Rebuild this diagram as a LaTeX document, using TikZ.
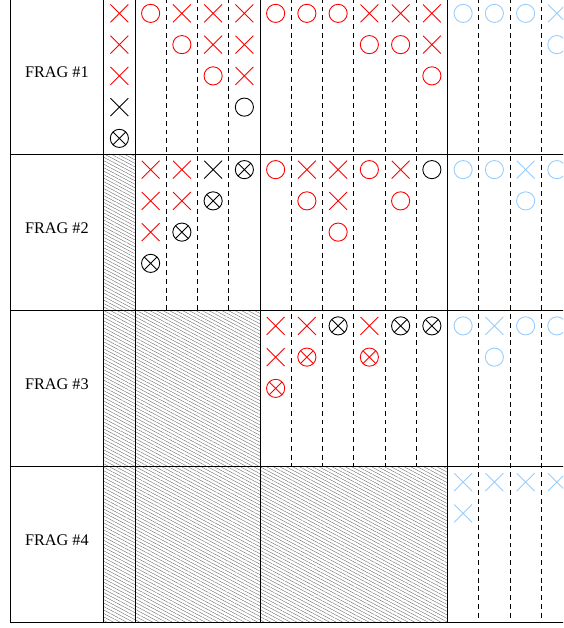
\documentclass[tikz,border=0pt]{standalone}
\usepackage{fontspec}
\setmainfont{Liberation Serif}
\usepackage{tikz}
\usetikzlibrary{shapes.misc}
\usetikzlibrary{patterns.meta}
\usepackage{xcolor}

\definecolor{skyblue}{RGB}{150,205,255}

\tikzset{
  gridline/.style={line width=0.9pt},
  dashline/.style={line width=0.8pt, dash pattern=on 4.5pt off 3.5pt},
  hatch/.style={pattern={Lines[angle=-28,distance=2.8pt,line width=0.3pt]}, pattern color=black!65},
  crossmark/.style={draw, cross out, minimum size=0.54cm, inner sep=0pt, line width=0.8pt},
  ringmark/.style={draw, circle, minimum size=0.58cm, inner sep=0pt, line width=0.8pt},
  bothmark/.style={ringmark, path picture={
      \draw[line width=0.8pt] (path picture bounding box.north west) -- (path picture bounding box.south east)
                              (path picture bounding box.north east) -- (path picture bounding box.south west);}},
  xred/.style={crossmark, color=red},
  xblk/.style={crossmark, color=black},
  xblu/.style={crossmark, color=skyblue},
  ored/.style={ringmark, color=red},
  oblk/.style={ringmark, color=black},
  oblu/.style={ringmark, color=skyblue},
  dred/.style={bothmark, color=red},
  dblk/.style={bothmark, color=black},
  fraglabel/.style={font=\fontsize{14.8}{17}\selectfont}
}

\begin{document}
\begin{tikzpicture}
    \useasboundingbox (-0.32,-0.072) rectangle (17.696,-20.168);
    \clip (-0.32,-0.072) rectangle (17.696,-20.168);

    % Hatched (empty) cells
    \fill[hatch] (3,-5) rectangle (4,-20);
    \fill[hatch] (4,-10) rectangle (8,-20);
    \fill[hatch] (8,-15) rectangle (14,-20);

    % Dashed sub-columns
    \foreach \x in {5,6,7} \draw[dashline] (\x,0) -- (\x,-10);
    \foreach \x in {9,...,13} \draw[dashline] (\x,0) -- (\x,-15);
    \foreach \x in {15,16,17} \draw[dashline] (\x,0) -- (\x,-20);

    % Solid grid
    \foreach \y in {0,-5,-10,-15,-20} \draw[gridline] (0,\y) -- (18,\y);
    \foreach \x in {0,3,4,8,14,18} \draw[gridline] (\x,0) -- (\x,-20);

    % Row labels
    \node[fraglabel] (frag1) at (1.5,-2.37) {FRAG \#1};
    \node[fraglabel] (frag2) at (1.5,-7.37) {FRAG \#2};
    \node[fraglabel] (frag3) at (1.5,-12.37) {FRAG \#3};
    \node[fraglabel] (frag4) at (1.5,-17.37) {FRAG \#4};

    % FRAG #1 marks
    \foreach \k/\col in {3/{xred,xred,xred,xblk,dblk}, 4/{ored}, 5/{xred,ored},
        6/{xred,xred,ored}, 7/{xred,xred,xred,oblk}, 8/{ored}, 9/{ored}, 10/{ored},
        11/{xred,ored}, 12/{xred,ored}, 13/{xred,xred,ored},
        14/{oblu}, 15/{oblu}, 16/{oblu}, 17/{xblu,oblu}}
      \foreach \m [count=\i] in \col
        \node[\m] (a-\k-\i) at (\k+0.5,0.5-\i) {};

    % FRAG #2 marks
    \foreach \k/\col in {4/{xred,xred,xred,dblk}, 5/{xred,xred,dblk}, 6/{xblk,dblk}, 7/{dblk},
        8/{ored}, 9/{xred,ored}, 10/{xred,xred,ored}, 11/{ored}, 12/{xred,ored}, 13/{oblk},
        14/{oblu}, 15/{oblu}, 16/{xblu,oblu}, 17/{oblu}}
      \foreach \m [count=\i] in \col
        \node[\m] (b-\k-\i) at (\k+0.5,-4.5-\i) {};

    % FRAG #3 marks
    \foreach \k/\col in {8/{xred,xred,dred}, 9/{xred,dred}, 10/{dblk}, 11/{xred,dred},
        12/{dblk}, 13/{dblk}, 14/{oblu}, 15/{xblu,oblu}, 16/{oblu}, 17/{oblu}}
      \foreach \m [count=\i] in \col
        \node[\m] (c-\k-\i) at (\k+0.5,-9.5-\i) {};

    % FRAG #4 marks
    \foreach \k/\col in {14/{xblu,xblu}, 15/{xblu}, 16/{xblu}, 17/{xblu}}
      \foreach \m [count=\i] in \col
        \node[\m] (d-\k-\i) at (\k+0.5,-14.5-\i) {};
\end{tikzpicture}
\end{document}
